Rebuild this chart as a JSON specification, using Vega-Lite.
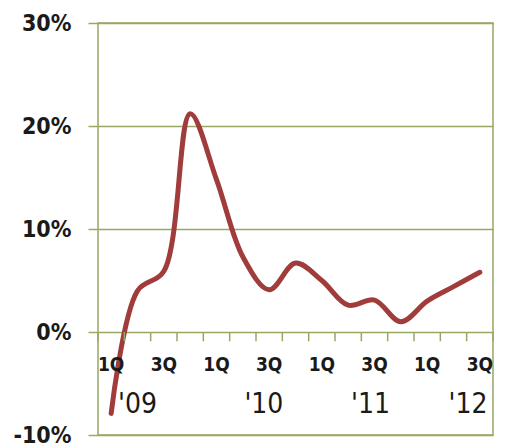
{
  "$schema": "https://vega.github.io/schema/vega-lite/v6.json",
  "width": 395,
  "height": 412,
  "autosize": {"type": "none"},
  "padding": {"left": 98, "top": 23, "right": 16, "bottom": 13},
  "background": "#ffffff",
  "config": {
    "view": {"stroke": "#98A862", "strokeWidth": 1.5},
    "font": "DejaVu Sans Condensed"
  },
  "datasets": {
    "growth": [
      {"q": 0, "quarter": "1Q", "year": 2009, "value": -7.9},
      {"q": 1, "quarter": "2Q", "year": 2009, "value": 4.0},
      {"q": 2, "quarter": "3Q", "year": 2009, "value": 5.9},
      {"q": 3, "quarter": "4Q", "year": 2009, "value": 21.2},
      {"q": 4, "quarter": "1Q", "year": 2010, "value": 14.8},
      {"q": 5, "quarter": "2Q", "year": 2010, "value": 7.3},
      {"q": 6, "quarter": "3Q", "year": 2010, "value": 4.1},
      {"q": 7, "quarter": "4Q", "year": 2010, "value": 6.7},
      {"q": 8, "quarter": "1Q", "year": 2011, "value": 5.0},
      {"q": 9, "quarter": "2Q", "year": 2011, "value": 2.6},
      {"q": 10, "quarter": "3Q", "year": 2011, "value": 3.1},
      {"q": 11, "quarter": "4Q", "year": 2011, "value": 1.0},
      {"q": 12, "quarter": "1Q", "year": 2012, "value": 3.0},
      {"q": 13, "quarter": "2Q", "year": 2012, "value": 4.4},
      {"q": 14, "quarter": "3Q", "year": 2012, "value": 5.8}
    ],
    "boundaries": [
      {"b": -0.5}, {"b": 0.5}, {"b": 1.5}, {"b": 2.5}, {"b": 3.5}, {"b": 4.5},
      {"b": 5.5}, {"b": 6.5}, {"b": 7.5}, {"b": 8.5}, {"b": 9.5}, {"b": 10.5},
      {"b": 11.5}, {"b": 12.5}, {"b": 13.5}, {"b": 14.5}
    ],
    "years": [
      {"label": "'09", "q": 1.0},
      {"label": "'10", "q": 5.8},
      {"label": "'11", "q": 9.85},
      {"label": "'12", "q": 13.55}
    ]
  },
  "layer": [
    {
      "data": {"name": "growth"},
      "mark": {"type": "line", "interpolate": "catmull-rom", "color": "#A03C3B", "strokeWidth": 5, "strokeCap": "round", "strokeJoin": "round"},
      "encoding": {
        "x": {
          "field": "q",
          "type": "quantitative",
          "scale": {"domain": [-0.5, 14.5], "nice": false, "zero": false},
          "axis": null
        },
        "y": {
          "field": "value",
          "type": "quantitative",
          "scale": {"domain": [-10, 30], "nice": false},
          "axis": {
            "title": null,
            "values": [-10, 0, 10, 20, 30],
            "labelExpr": "datum.value + '%'",
            "labelFont": "DejaVu Sans Condensed",
            "labelFontWeight": "bold",
            "labelFontSize": 23,
            "labelColor": "#1a1a1a",
            "labelPadding": 17,
            "labelFlush": false,
            "labelOverlap": false,
            "tickSize": 10,
            "tickColor": "#98A862",
            "tickWidth": 1.5,
            "domain": false,
            "grid": true,
            "gridColor": "#98A862",
            "gridWidth": 1.5,
            "gridOpacity": 1
          }
        }
      }
    },
    {
      "data": {"name": "boundaries"},
      "mark": {"type": "rule", "color": "#98A862", "strokeWidth": 1.5},
      "encoding": {
        "x": {"field": "b", "type": "quantitative"},
        "y": {"datum": 0},
        "y2": {"datum": -0.9}
      }
    },
    {
      "data": {"name": "growth"},
      "transform": [{"filter": "datum.quarter == '1Q' || datum.quarter == '3Q'"}],
      "mark": {"type": "text", "font": "DejaVu Sans Condensed", "fontWeight": "bold", "fontSize": 19, "color": "#1a1a1a", "baseline": "middle", "align": "center"},
      "encoding": {
        "x": {"field": "q", "type": "quantitative"},
        "y": {"datum": -3.2},
        "text": {"field": "quarter"}
      }
    },
    {
      "data": {"name": "years"},
      "mark": {"type": "text", "font": "DejaVu Sans Condensed", "fontSize": 28, "color": "#1a1a1a", "baseline": "middle", "align": "center"},
      "encoding": {
        "x": {"field": "q", "type": "quantitative"},
        "y": {"datum": -7.1},
        "text": {"field": "label"}
      }
    }
  ]
}
